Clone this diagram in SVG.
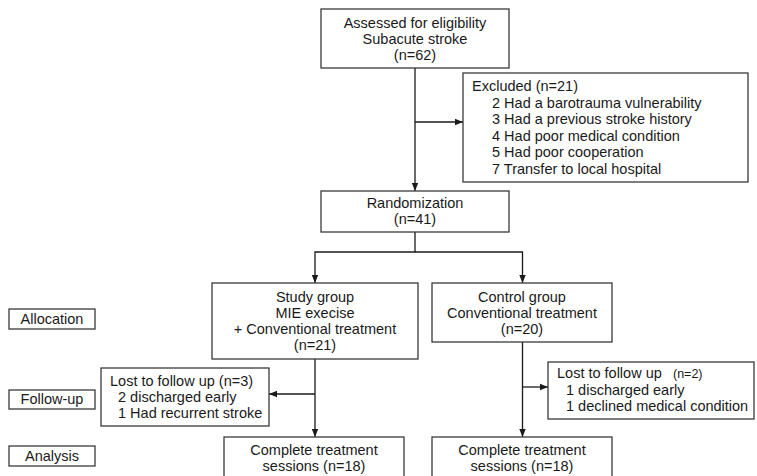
<svg xmlns="http://www.w3.org/2000/svg" width="757" height="476" viewBox="0 0 757 476">
<style>
.box{fill:#fff;stroke:#3a3a3a;stroke-width:1.3}
.t{font-family:"Liberation Sans",Arial,sans-serif;font-size:14.5px;fill:#1a1a1a}
.c{text-anchor:middle}
.ln{fill:none;stroke:#1a1a1a;stroke-width:1.3}
</style>
<defs>
<marker id="ah" viewBox="0 0 8 8" refX="8" refY="4" markerWidth="8" markerHeight="8" markerUnits="userSpaceOnUse" orient="auto">
<path d="M0,0.8 L8,4 L0,7.2 Z" fill="#1a1a1a"/>
</marker>
</defs>
<rect width="757" height="476" fill="#fff"/>
<g id="connectors">
<path class="ln" d="M415,68 V191" marker-end="url(#ah)"/>
<path class="ln" d="M415,122 H463" marker-end="url(#ah)"/>
<path class="ln" d="M415,232 V252 H315 V283" marker-end="url(#ah)"/>
<path class="ln" d="M415,252 H522.5 V283" marker-end="url(#ah)"/>
<path class="ln" d="M315,359 V437" marker-end="url(#ah)"/>
<path class="ln" d="M315,394 H269" marker-end="url(#ah)"/>
<path class="ln" d="M522.5,342 V437" marker-end="url(#ah)"/>
<path class="ln" d="M522.5,387 H548" marker-end="url(#ah)"/>
</g>
<g id="assessed">
<rect class="box" x="321" y="9" width="188" height="59"/>
<text class="t c" x="415" y="28">Assessed for eligibility</text>
<text class="t c" x="415" y="44">Subacute stroke</text>
<text class="t c" x="415" y="60">(n=62)</text>
</g>
<g id="excluded">
<rect class="box" x="463" y="73" width="285" height="109"/>
<text class="t" x="472" y="91">Excluded (n=21)</text>
<text class="t" x="492" y="107.5">2 Had a barotrauma vulnerability</text>
<text class="t" x="492" y="124">3 Had a previous stroke history</text>
<text class="t" x="492" y="140.5">4 Had poor medical condition</text>
<text class="t" x="492" y="157">5 Had poor cooperation</text>
<text class="t" x="492" y="173.5">7 Transfer to local hospital</text>
</g>
<g id="randomization">
<rect class="box" x="321" y="191" width="188" height="41"/>
<text class="t c" x="415" y="208">Randomization</text>
<text class="t c" x="415" y="224">(n=41)</text>
</g>
<g id="allocation">
<rect class="box" x="9" y="309" width="86" height="20"/>
<text class="t c" x="52" y="324">Allocation</text>
</g>
<g id="followup">
<rect class="box" x="9" y="390" width="86" height="19"/>
<text class="t c" x="52" y="404">Follow-up</text>
</g>
<g id="analysis">
<rect class="box" x="9" y="446" width="86" height="20"/>
<text class="t c" x="52" y="461">Analysis</text>
</g>
<g id="study">
<rect class="box" x="212" y="283" width="206" height="76"/>
<text class="t c" x="315" y="302">Study group</text>
<text class="t c" x="315" y="318">MIE execise</text>
<text class="t c" x="315" y="334">+ Conventional treatment</text>
<text class="t c" x="315" y="350">(n=21)</text>
</g>
<g id="control">
<rect class="box" x="432" y="283" width="180" height="59"/>
<text class="t c" x="522" y="302">Control group</text>
<text class="t c" x="522" y="318">Conventional treatment</text>
<text class="t c" x="522" y="334">(n=20)</text>
</g>
<g id="lost-study">
<rect class="box" x="101" y="368" width="168" height="58"/>
<text class="t" x="110" y="386">Lost to follow up (n=3)</text>
<text class="t" x="118" y="402">2 discharged early</text>
<text class="t" x="118" y="418">1 Had recurrent stroke</text>
</g>
<g id="lost-control">
<rect class="box" x="548" y="362" width="206" height="57"/>
<text class="t" x="557" y="378">Lost to follow up<tspan font-size="12.5px" x="673">(n=2)</tspan></text>
<text class="t" x="566" y="395">1 discharged early</text>
<text class="t" x="566" y="411">1 declined medical condition</text>
</g>
<g id="complete-study">
<rect class="box" x="224" y="437" width="180" height="45"/>
<text class="t c" x="314" y="455">Complete treatment</text>
<text class="t c" x="314" y="471">sessions (n=18)</text>
</g>
<g id="complete-control">
<rect class="box" x="432" y="437" width="180" height="45"/>
<text class="t c" x="522" y="455">Complete treatment</text>
<text class="t c" x="522" y="471">sessions (n=18)</text>
</g>
</svg>
